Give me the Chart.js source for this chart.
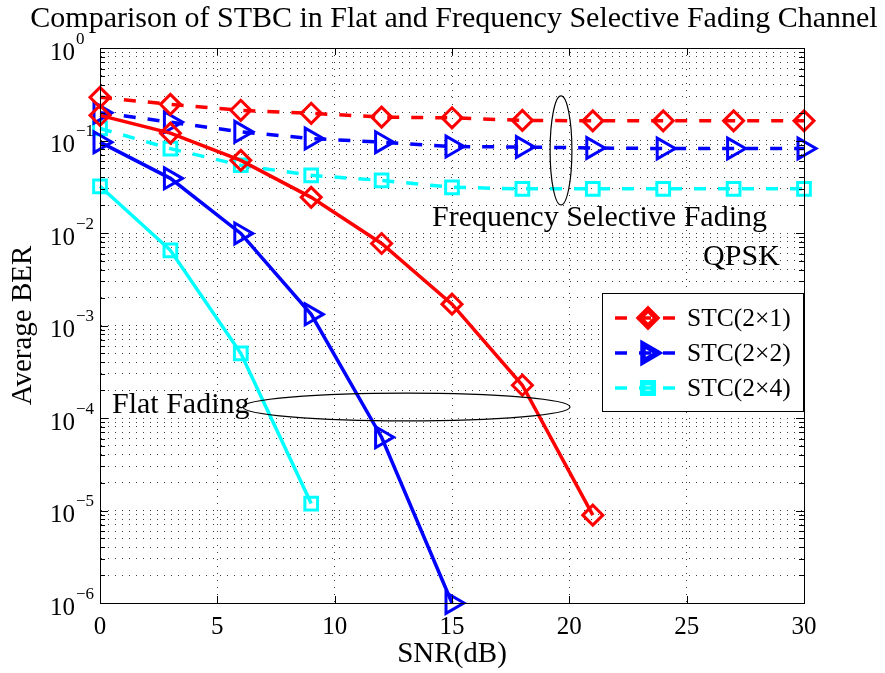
<!DOCTYPE html>
<html><head><meta charset="utf-8">
<script src="https://cdn.jsdelivr.net/npm/chart.js@4"></script>
<style>html,body{margin:0;padding:0;background:#fff}</style>
</head><body>
<canvas id="c" width="885" height="673"></canvas>
<script>
// ---------- data ----------
const snr = [0, 3, 6, 9, 12, 15, 18, 21, 24, 27, 30];
const stc21Flat = [0.187, 0.12, 0.061, 0.0243, 0.0077, 0.0017, 2.26e-4, 8.9e-6];
const stc22Flat = [0.096, 0.039, 0.0099, 0.00132, 6.2e-5, 1e-6];
const stc24Flat = [0.032, 0.0065, 5.0e-4, 1.19e-5];
const stc21Freq = [0.293, 0.246, 0.212, 0.197, 0.179, 0.176, 0.165, 0.163, 0.163, 0.163, 0.163];
const stc22Freq = [0.2, 0.158, 0.124, 0.105, 0.096, 0.086, 0.085, 0.083, 0.082, 0.082, 0.082];
const stc24Freq = [0.135, 0.0817, 0.054, 0.042, 0.037, 0.0312, 0.030, 0.030, 0.030, 0.030, 0.030];
const xTicks = [0, 5, 10, 15, 20, 25, 30];
const yExponents = [0, -1, -2, -3, -4, -5, -6];
const seriesNames = ['STC(2\u00d71)', 'STC(2\u00d72)', 'STC(2\u00d74)'];
const titleText = 'Comparison of STBC in Flat and Frequency Selective Fading Channel';
const xTitle = 'SNR(dB)';
const yTitle = 'Average BER';
// annotations (data coordinates)
const annTexts = [
  { text: 'Frequency Selective Fading', x: 14.15, y: 0.0119 },
  { text: 'QPSK', x: 25.7, y: 0.00451 },
  { text: 'Flat Fading', x: 0.51, y: 1.13e-4 }
];
const annEllipses = [
  { x1: 19.18, x2: 20.11, y1: 0.303, y2: 0.0201 },
  { x1: 6.09, x2: 20.03, y1: 1.86e-4, y2: 9.3e-5 }
];

// y ticks: every 1..9 x 10^e
const yTickValues = [];
for (let e = -6; e < 0; e++) for (let m = 1; m <= 9; m++) yTickValues.push(+(m * Math.pow(10, e)).toPrecision(3));
yTickValues.push(1);

const RED = '#ff0000', BLUE = '#0000ff', CYAN = '#00ffff';
const FONT = '"Liberation Serif", "Times New Roman", serif';

function pts(vals) { return vals.map((v, i) => ({ x: snr[i], y: v })); }
function ds(label, vals, color, style, radius, rot, dashed) {
  return {
    label, data: pts(vals), borderColor: color, backgroundColor: color,
    borderWidth: 3.5, borderDash: dashed ? [12, 12] : [],
    pointStyle: style, pointRadius: radius, pointRotation: rot,
    pointBorderWidth: 3, pointBorderColor: color, pointBackgroundColor: 'rgba(0,0,0,0)',
    pointHoverRadius: radius, fill: false, tension: 0, clip: false
  };
}
const styles = [
  { color: RED, style: 'rectRot', r: 10, rot: 0 },
  { color: BLUE, style: 'triangle', r: 12, rot: 90 },
  { color: CYAN, style: 'rect', r: 9, rot: 0 }
];

function marker(ctx, st, x, y, r, lw) {
  ctx.save();
  ctx.strokeStyle = st.color; ctx.lineWidth = lw; ctx.setLineDash([]);
  ctx.beginPath();
  if (st.style === 'rectRot') {
    ctx.moveTo(x - r, y); ctx.lineTo(x, y - r); ctx.lineTo(x + r, y); ctx.lineTo(x, y + r); ctx.closePath();
  } else if (st.style === 'triangle') {
    ctx.moveTo(x + r, y); ctx.lineTo(x - 0.5 * r, y - 0.866 * r); ctx.lineTo(x - 0.5 * r, y + 0.866 * r); ctx.closePath();
  } else {
    const s = r * Math.SQRT1_2; ctx.rect(x - s, y - s, 2 * s, 2 * s);
  }
  ctx.stroke();
  ctx.restore();
}

const deco = {
  id: 'deco',
  beforeDraw(chart) {
    const ctx = chart.ctx; ctx.save(); ctx.fillStyle = '#fff'; ctx.fillRect(0, 0, chart.width, chart.height); ctx.restore();
  },
  afterDatasetsDraw(chart) {
    const ctx = chart.ctx, a = chart.chartArea, xs = chart.scales.x, ys = chart.scales.y;
    ctx.save();
    // frame
    ctx.strokeStyle = '#000'; ctx.lineWidth = 1; ctx.setLineDash([]);
    ctx.strokeRect(Math.round(a.left) + 0.5, Math.round(a.top) + 0.5, Math.round(a.right - a.left), Math.round(a.bottom - a.top));
    // inward ticks
    ctx.beginPath();
    xs.ticks.forEach(t => {
      const px = Math.round(xs.getPixelForValue(t.value)) + 0.5;
      ctx.moveTo(px, a.bottom); ctx.lineTo(px, a.bottom - 7);
      ctx.moveTo(px, a.top); ctx.lineTo(px, a.top + 7);
    });
    ys.ticks.forEach(t => {
      const lg = Math.log10(t.value);
      const len = Math.abs(lg - Math.round(lg)) < 1e-6 ? 8 : 5;
      const py = Math.round(ys.getPixelForValue(t.value)) + 0.5;
      ctx.moveTo(a.left, py); ctx.lineTo(a.left + len, py);
      ctx.moveTo(a.right, py); ctx.lineTo(a.right - len, py);
    });
    ctx.stroke();

    ctx.fillStyle = '#000';
    // y tick labels 10^e
    yExponents.forEach(e => {
      const py = ys.getPixelForValue(Math.pow(10, e));
      ctx.font = '25px ' + FONT; ctx.textAlign = 'right'; ctx.textBaseline = 'alphabetic';
      ctx.fillText('10', 75, py + 11.5);
      ctx.font = '17px ' + FONT; ctx.textAlign = 'left';
      ctx.fillText(e === 0 ? '0' : '\u2212' + (-e), 76, py - 4.5);
    });
    // title
    ctx.font = '30px ' + FONT; ctx.textAlign = 'center';
    ctx.fillText(titleText, 454, 27);
    // x title
    ctx.font = '29px ' + FONT;
    ctx.fillText(xTitle, (a.left + a.right) / 2, 662);
    // y title
    ctx.save(); ctx.translate(31, (a.top + a.bottom) / 2); ctx.rotate(-Math.PI / 2);
    ctx.font = '29px ' + FONT; ctx.textAlign = 'center'; ctx.fillText(yTitle, 0, 0); ctx.restore();
    // annotation texts
    ctx.font = '30px ' + FONT; ctx.textAlign = 'left';
    annTexts.forEach(t => ctx.fillText(t.text, xs.getPixelForValue(t.x), ys.getPixelForValue(t.y)));
    // ellipses
    ctx.lineWidth = 1.2; ctx.strokeStyle = '#000';
    annEllipses.forEach(el => {
      const x1 = xs.getPixelForValue(el.x1), x2 = xs.getPixelForValue(el.x2);
      const y1 = ys.getPixelForValue(el.y1), y2 = ys.getPixelForValue(el.y2);
      ctx.beginPath();
      ctx.ellipse((x1 + x2) / 2, (y1 + y2) / 2, Math.abs(x2 - x1) / 2, Math.abs(y2 - y1) / 2, 0, 0, Math.PI * 2);
      ctx.stroke();
    });
    // legend
    const lx = 602.5, ly = 293.5, lw = 201, lh = 118;
    ctx.fillStyle = '#fff'; ctx.fillRect(lx, ly, lw, lh);
    ctx.strokeStyle = '#000'; ctx.lineWidth = 1; ctx.strokeRect(lx, ly, lw, lh);
    seriesNames.forEach((name, i) => {
      const st = styles[i], cy = 318 + i * 35;
      ctx.save();
      ctx.strokeStyle = st.color; ctx.lineWidth = 3.5; ctx.setLineDash([12, 12]);
      ctx.beginPath(); ctx.moveTo(615, cy); ctx.lineTo(680, cy); ctx.stroke();
      ctx.restore();
      marker(ctx, st, 648, cy, st.style === 'triangle' ? 10 : (st.style === 'rect' ? 7.5 : 8.5), 5.5);
      ctx.fillStyle = '#000'; ctx.font = '25.5px ' + FONT; ctx.textAlign = 'left';
      ctx.fillText(name, 687, cy + 8);
    });
    ctx.restore();
  }
};

const datasets = [
  ds(seriesNames[0] + ' flat', stc21Flat, RED, 'rectRot', 10, 0, false),
  ds(seriesNames[1] + ' flat', stc22Flat, BLUE, 'triangle', 12, 90, false),
  ds(seriesNames[2] + ' flat', stc24Flat, CYAN, 'rect', 9, 0, false),
  ds(seriesNames[0], stc21Freq, RED, 'rectRot', 10, 0, true),
  ds(seriesNames[1], stc22Freq, BLUE, 'triangle', 12, 90, true),
  ds(seriesNames[2], stc24Freq, CYAN, 'rect', 9, 0, true)
];

new Chart(document.getElementById('c'), {
  type: 'line',
  data: { datasets },
  options: {
    responsive: false, animation: false, devicePixelRatio: 1,
    layout: { padding: { top: 48, right: 81, bottom: 0, left: 0 } },
    plugins: { legend: { display: false }, title: { display: false }, tooltip: { enabled: false } },
    scales: {
      x: {
        type: 'linear', min: 0, max: 30,
        afterBuildTicks: s => { s.ticks = xTicks.map(v => ({ value: v })); },
        afterFit: s => { s.height = 70; },
        ticks: { font: { family: FONT, size: 25 }, color: '#000', padding: 9, maxRotation: 0, autoSkip: false },
        grid: { color: 'rgba(0,0,0,0.75)', lineWidth: 1, drawTicks: false },
        border: { display: true, color: '#000', width: 1, dash: [1, 6] }
      },
      y: {
        type: 'logarithmic', min: 1e-6, max: 1,
        afterBuildTicks: s => { s.ticks = yTickValues.map(v => ({ value: v })); },
        afterFit: s => { s.width = 100; },
        ticks: { callback: () => '', autoSkip: false },
        grid: { color: 'rgba(0,0,0,0.75)', lineWidth: 1, drawTicks: false },
        border: { display: true, color: '#000', width: 1, dash: [1, 6] }
      }
    }
  },
  plugins: [deco]
});
</script>
</body></html>
